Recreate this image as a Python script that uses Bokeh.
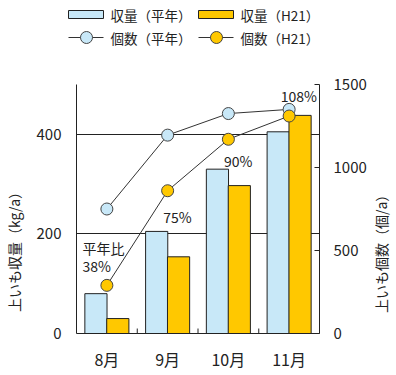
import math
from bokeh.plotting import figure
from bokeh.models import (ColumnDataSource, FactorRange, Range1d, LinearAxis,
                          FixedTicker)
from bokeh.transform import dodge
from bokeh.layouts import column, row
from bokeh.core.properties import value
from bokeh.embed import file_html
from bokeh.resources import INLINE

# ---- data ----
months = ["8月", "9月", "10月", "11月"]
yield_normal = [80, 205, 330, 405]      # 収量(平年) kg/a
yield_h21 = [30, 154, 297, 438]         # 収量(H21) kg/a
count_normal = [750, 1195, 1325, 1350]  # 個数(平年) 個/a
count_h21 = [290, 860, 1170, 1310]      # 個数(H21) 個/a
ratio_labels = ["38%", "75%", "90%", "108%"]
left_ticks = [0, 200, 400]
right_ticks = [0, 500, 1000, 1500]

FONT = "Noto Sans CJK JP"
BLUE = "#C8E8F8"
ORANGE = "#FFC800"
LINE = "#333333"
INK = "#222222"


def blank_fig(w, h):
    f = figure(width=w, height=h, frame_width=w, frame_height=h,
               x_range=Range1d(0, w), y_range=Range1d(0, h),
               x_axis_location=None, y_axis_location=None,
               output_backend="svg", toolbar_location=None, min_border=0)
    f.grid.visible = False
    f.outline_line_color = None
    return f


src = ColumnDataSource(dict(m=months, yn=yield_normal, yh=yield_h21,
                            cn=count_normal, ch=count_h21))

# ---- legend figure ----
lg = blank_fig(396, 56)
lg.rect(x="x", y="y", width=35, height=8, fill_color="fill", line_color=INK,
        line_width=1, source=ColumnDataSource(dict(x=[85.5, 215.5], y=[42, 42],
                                                   fill=[BLUE, ORANGE])))
lg.multi_line(xs="xs", ys="ys", line_color=LINE, line_width=1,
              source=ColumnDataSource(dict(xs=[[68, 103], [198, 233]],
                                           ys=[[19, 19], [19, 19]])))
lg.scatter(x="x", y="y", size=12, fill_color="fill", line_color="#444444",
           line_width=1, source=ColumnDataSource(dict(x=[86, 216], y=[19, 19],
                                                      fill=[BLUE, ORANGE])))
lg.text(x="x", y="y", text="t", text_font=value(FONT), text_font_size="13.5px",
        text_baseline="middle", text_align="left", text_color=INK,
        source=ColumnDataSource(dict(x=[110, 240, 110, 240], y=[42, 42, 19, 19],
                                     t=["収量（平年）", "収量（H21）",
                                        "個数（平年）", "個数（H21）"])))

# ---- axis title figures ----
lt = blank_fig(30, 319)
lt.text(x=[13], y=[155], text=["上いも収量（kg/a）"], angle=math.pi / 2,
        text_font=value(FONT), text_font_size="14px", text_align="center",
        text_baseline="middle", text_color=INK)
rt = blank_fig(26, 319)
rt.text(x=[10], y=[153], text=["上いも個数（個/a）"], angle=math.pi / 2,
        text_font=value(FONT), text_font_size="14px", text_align="center",
        text_baseline="middle", text_color=INK)

# ---- main figure ----
p = figure(x_range=FactorRange(*months, range_padding=0), y_range=Range1d(0, 500),
           frame_width=243, frame_height=249,
           min_border_left=46, min_border_right=51, min_border_top=28, min_border_bottom=42,
           output_backend="svg", toolbar_location=None)
p.outline_line_color = None
p.extra_y_ranges = {"count": Range1d(0, 1500)}

p.vbar(x=dodge("m", -0.18, range=p.x_range), top="yn", width=0.365, bottom=0,
       fill_color=BLUE, line_color=INK, line_width=1, source=src)
p.vbar(x=dodge("m", 0.18, range=p.x_range), top="yh", width=0.365, bottom=0,
       fill_color=ORANGE, line_color=INK, line_width=1, source=src)

p.line(x="m", y="cn", y_range_name="count", line_color=LINE, line_width=1, source=src)
p.scatter(x="m", y="cn", y_range_name="count", size=12, fill_color=BLUE,
          line_color="#444444", line_width=1, source=src)
p.line(x="m", y="ch", y_range_name="count", line_color=LINE, line_width=1, source=src)
p.scatter(x="m", y="ch", y_range_name="count", size=12, fill_color=ORANGE,
          line_color="#444444", line_width=1, source=src)

# ticks between categories on the bottom axis
tick_src = ColumnDataSource(dict(m=months[:-1]))
p.segment(x0=dodge("m", 0.5, range=p.x_range), y0=0,
          x1=dodge("m", 0.5, range=p.x_range), y1=10,
          line_color=INK, line_width=1, source=tick_src)

# ratio labels (layout positions)
p.text(x=dodge("x", -0.4, range=p.x_range), y="y", text="t",
       text_font=value(FONT), text_font_size="14px", text_baseline="middle",
       text_align="left", text_color=INK,
       source=ColumnDataSource(dict(x=[months[0], months[0]], y=[136, 172],
                                    t=[ratio_labels[0], "平年比"])))
p.text(x=dodge("x", 0.16, range=p.x_range), y="y", text="t",
       text_font=value(FONT), text_font_size="14px", text_baseline="middle",
       text_align="center", text_color=INK,
       source=ColumnDataSource(dict(x=months[1:], y=[234, 346, 476], t=ratio_labels[1:])))

# axes
p.xgrid.visible = False
p.ygrid.ticker = FixedTicker(ticks=[200, 400])
p.ygrid.grid_line_color = INK
p.ygrid.grid_line_alpha = 1.0
p.ygrid.grid_line_width = 1

ya = p.yaxis[0]
ya.ticker = FixedTicker(ticks=left_ticks)
ya.major_tick_out = 0
ya.major_tick_in = 0
ya.minor_tick_out = 0
ya.minor_tick_in = 0
ya.major_label_standoff = 15
ya.axis_line_color = INK

xa = p.xaxis[0]
xa.major_tick_out = 0
xa.major_tick_in = 0
xa.major_label_standoff = 13
xa.axis_line_color = INK

ra = LinearAxis(y_range_name="count", ticker=FixedTicker(ticks=right_ticks))
ra.major_tick_in = 5
ra.major_tick_out = 0
ra.minor_tick_in = 0
ra.minor_tick_out = 0
ra.major_label_standoff = 14
ra.axis_line_color = INK
ra.major_tick_line_color = INK
p.add_layout(ra, "right")

for ax in (ya, xa, ra):
    ax.major_label_text_font = FONT
    ax.major_label_text_color = INK
    ax.major_label_text_font_size = "15px"
xa.major_label_text_font_size = "16px"

layout = column(lg, row(lt, p, rt, spacing=0), spacing=0)
open("out.html", "w").write(file_html(layout, INLINE))
